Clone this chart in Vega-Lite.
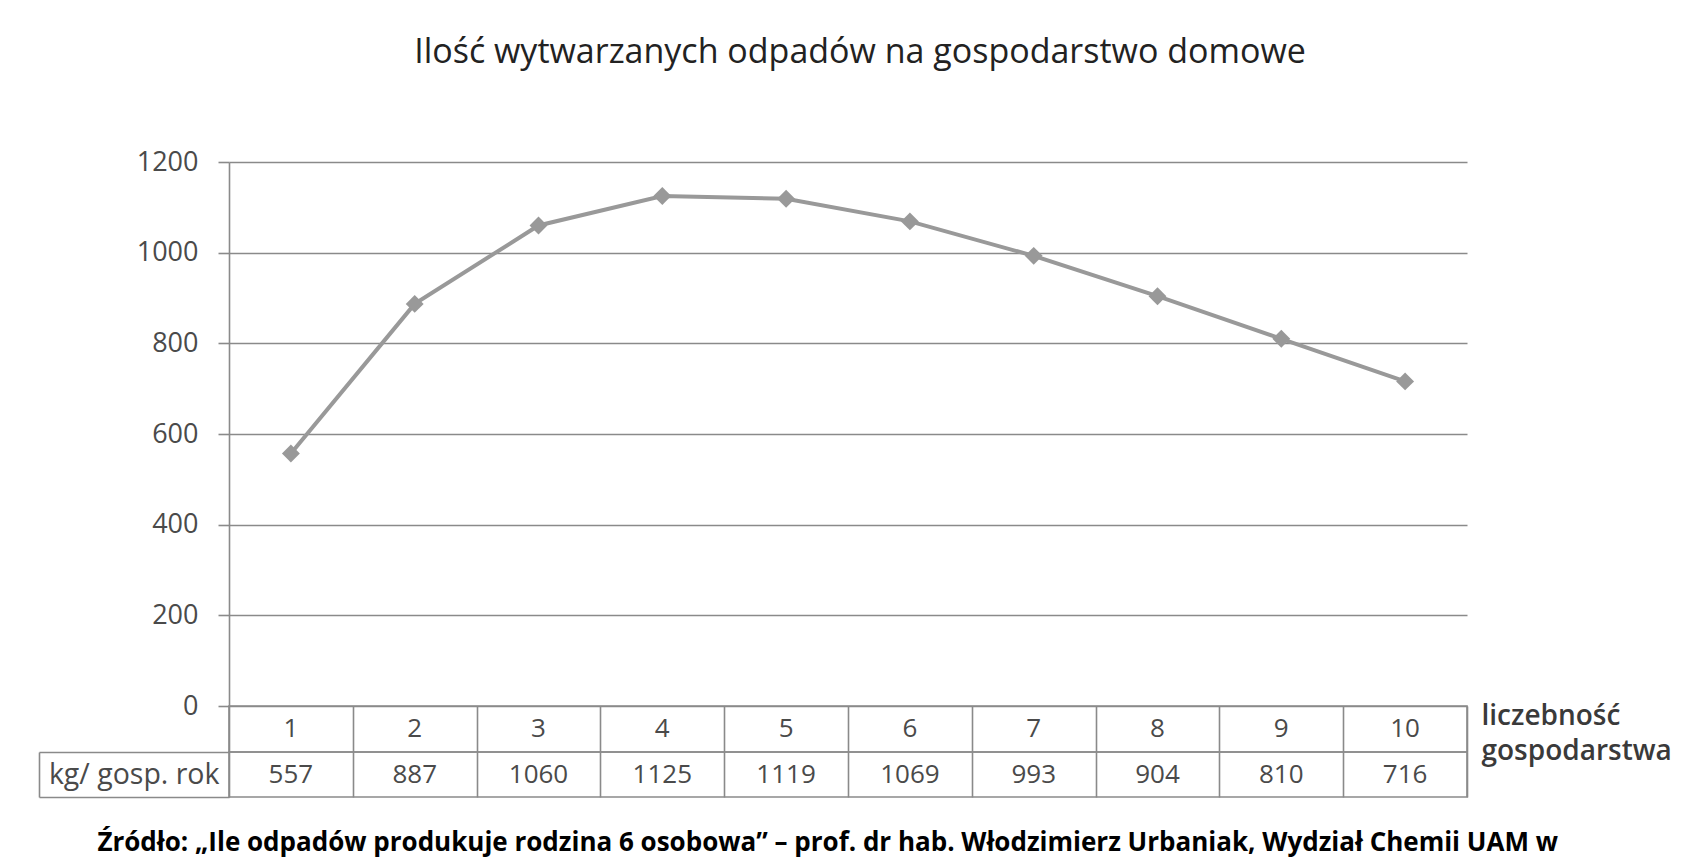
{
  "$schema": "https://vega.github.io/schema/vega-lite/v6.json",
  "background": "white",
  "padding": {"left": 37, "top": 36, "right": 5, "bottom": 5},
  "spacing": 0,
  "bounds": "flush",
  "datasets": {
    "d": [
      {"n": 1, "kg": 557},
      {"n": 2, "kg": 887},
      {"n": 3, "kg": 1060},
      {"n": 4, "kg": 1125},
      {"n": 5, "kg": 1119},
      {"n": 6, "kg": 1069},
      {"n": 7, "kg": 993},
      {"n": 8, "kg": 904},
      {"n": 9, "kg": 810},
      {"n": 10, "kg": 716}
    ]
  },
  "title": {
    "text": "Źródło: „Ile odpadów produkuje rodzina 6 osobowa” – prof. dr hab. Włodzimierz Urbaniak, Wydział Chemii UAM w",
    "orient": "bottom",
    "anchor": "start",
    "frame": "bounds",
    "font": "Open Sans",
    "fontSize": 26,
    "fontWeight": "bold",
    "color": "#000000",
    "offset": 31,
    "dx": 60
  },
  "vconcat": [
    {
      "width": 1238,
      "height": 544,
      "view": {"stroke": null},
      "title": {
        "text": "Ilość wytwarzanych odpadów na gospodarstwo domowe",
        "font": "Open Sans",
        "fontSize": 34,
        "fontWeight": 500,
        "color": "#222222",
        "anchor": "middle",
        "dx": 12,
        "offset": 78
      },
      "data": {"name": "d"},
      "encoding": {
        "x": {"field": "n", "type": "ordinal", "scale": {"type": "point", "padding": 0.5}, "axis": null},
        "y": {
          "field": "kg",
          "type": "quantitative",
          "scale": {"domain": [0, 1200], "nice": false},
          "axis": {
            "title": null,
            "values": [0, 200, 400, 600, 800, 1000, 1200],
            "format": "d",
            "grid": true,
            "gridColor": "#8a8a8a",
            "gridWidth": 1.6,
            "domain": true,
            "domainColor": "#8a8a8a",
            "domainWidth": 1.6,
            "ticks": true,
            "tickSize": 11,
            "tickColor": "#8a8a8a",
            "tickWidth": 1.6,
            "labelPadding": 20,
            "labelFontSize": 27,
            "labelColor": "#4a4a4a"
          }
        }
      },
      "layer": [
        {"mark": {"type": "line", "color": "#999999", "strokeWidth": 4}},
        {"mark": {"type": "point", "shape": "diamond", "filled": true, "color": "#999999", "size": 320, "opacity": 1}}
      ]
    },
    {
      "width": 1238,
      "height": 46,
      "data": {"name": "d"},
      "mark": {"type": "text", "fontSize": 26, "color": "#4a4a4a"},
      "encoding": {
        "x": {
          "field": "n",
          "type": "ordinal",
          "scale": {"type": "band", "paddingInner": 0, "paddingOuter": 0},
          "axis": {"grid": true, "tickBand": "extent", "labels": false, "ticks": false, "domain": false, "title": null, "gridColor": "#8a8a8a", "gridWidth": 1.6}
        },
        "y": {
          "datum": "liczebność",
          "type": "nominal",
          "bandPosition": 1,
          "scale": {"type": "band", "domain": ["liczebność", "gospodarstwa"], "paddingInner": 0, "paddingOuter": 0},
          "axis": {
            "orient": "right",
            "title": null,
            "domain": false,
            "ticks": false,
            "labelAlign": "left",
            "labelBaseline": "middle",
            "labelPadding": 14,
            "labelFontSize": 28,
            "labelFontWeight": 600,
            "labelColor": "#3a3a3a",
            "labelLimit": 0,
            "labelOffset": {"condition": {"test": "datum.value === 'gospodarstwa'", "value": 11}, "value": -1}
          }
        },
        "text": {"field": "n", "type": "nominal"}
      }
    },
    {
      "width": 1238,
      "height": 45,
      "data": {"name": "d"},
      "mark": {"type": "text", "fontSize": 26, "color": "#4a4a4a"},
      "encoding": {
        "x": {
          "field": "n",
          "type": "ordinal",
          "scale": {"type": "band", "paddingInner": 0, "paddingOuter": 0},
          "axis": {"grid": true, "tickBand": "extent", "labels": false, "ticks": false, "domain": false, "title": null, "gridColor": "#8a8a8a", "gridWidth": 1.6}
        },
        "y": {
          "datum": "kg/ gosp. rok",
          "type": "nominal",
          "scale": {"type": "band", "paddingInner": 0, "paddingOuter": 0},
          "axis": {
            "orient": "left",
            "offset": 190,
            "title": null,
            "domain": true,
            "domainColor": "#8a8a8a",
            "domainWidth": 1.6,
            "ticks": true,
            "tickBand": "extent",
            "tickSize": -190,
            "tickColor": "#8a8a8a",
            "tickWidth": 1.6,
            "labelPadding": 10,
            "labelFontSize": 28.5,
            "labelColor": "#4a4a4a",
            "labelLimit": 0
          }
        },
        "text": {"field": "kg", "type": "quantitative"}
      }
    }
  ],
  "config": {
    "font": "Open Sans",
    "view": {"stroke": "#8a8a8a", "strokeWidth": 1.6}
  }
}
